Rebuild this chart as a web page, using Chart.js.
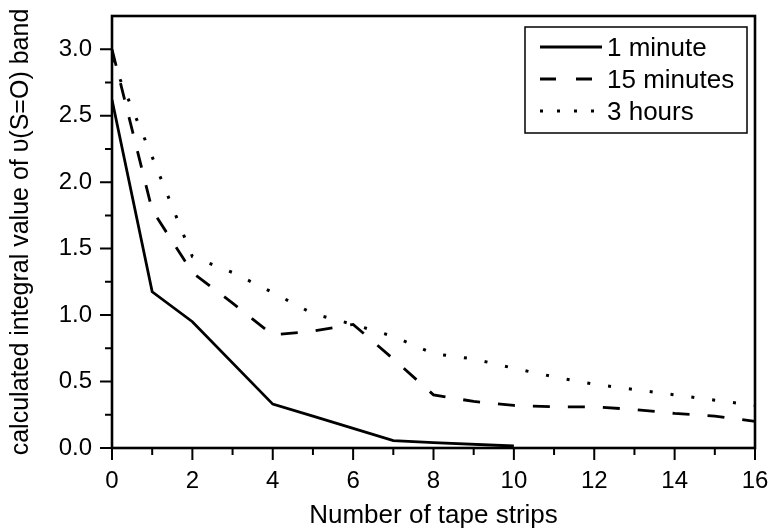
<!DOCTYPE html>
<html>
<head>
<meta charset="utf-8">
<script src="https://cdn.jsdelivr.net/npm/chart.js@4/dist/chart.umd.min.js"></script>
<style>
  html, body { margin: 0; padding: 0; background: #fff; }
  #wrap { width: 772px; height: 529px; }
</style>
</head>
<body>
<div id="wrap"><canvas id="c" width="772" height="529"></canvas></div>
<script>
// ---- data ----
const SERIES_NAMES = ['1 minute', '15 minutes', '3 hours'];

const X_1MIN = [0, 1, 2, 4, 5, 7, 8, 10];
const Y_1MIN = [2.62, 1.175, 0.95, 0.33, 0.24, 0.055, 0.04, 0.015];

const X_15MIN = [0, 1, 2, 3, 4, 5, 6, 7, 8, 9, 10, 11, 12, 13, 14, 15, 16];
const Y_15MIN = [3.0, 1.79, 1.32, 1.09, 0.85, 0.88, 0.93, 0.67, 0.40, 0.35, 0.32, 0.31, 0.31, 0.29, 0.26, 0.24, 0.20];

const X_3H = [0, 1, 2, 3, 4, 5, 6, 7, 8, 9, 10, 11, 12, 13, 14, 15, 16];
const Y_3H = [2.92, 2.19, 1.44, 1.32, 1.17, 1.01, 0.93, 0.84, 0.71, 0.67, 0.60, 0.535, 0.48, 0.44, 0.40, 0.36, 0.32];

const X_TICKS = [0, 2, 4, 6, 8, 10, 12, 14, 16];
const X_MINOR = [1, 3, 5, 7, 9, 11, 13, 15];
const Y_TICKS = [0, 0.5, 1.0, 1.5, 2.0, 2.5, 3.0];
const Y_MINOR = [0.25, 0.75, 1.25, 1.75, 2.25, 2.75];

const X_TITLE = 'Number of tape strips';
const Y_TITLE = 'calculated integral value of \u03C5(S=O) band';

const FONT = '"Liberation Sans", Arial, Helvetica, sans-serif';

function pts(xs, ys) { return xs.map((x, i) => ({ x: x, y: ys[i] })); }

const DASHES = [[], [17, 18], [3, 18]];
const LEGEND_DASHES = [[], [16, 20], [3, 14]];

const framePlugin = {
  id: 'frameTicks',
  afterDraw(chart) {
    const ctx = chart.ctx;
    const a = chart.chartArea;
    const xs = chart.scales.x, ys = chart.scales.y;
    ctx.save();
    ctx.strokeStyle = '#000';
    ctx.lineWidth = 2.6;
    ctx.lineCap = 'butt';
    ctx.setLineDash([]);
    ctx.strokeRect(a.left, a.top, a.right - a.left, a.bottom - a.top);
    // tick marks
    ctx.lineWidth = 2;
    ctx.beginPath();
    X_TICKS.forEach(v => { const p = xs.getPixelForValue(v); ctx.moveTo(p, a.bottom); ctx.lineTo(p, a.bottom + 12); });
    X_MINOR.forEach(v => { const p = xs.getPixelForValue(v); ctx.moveTo(p, a.bottom); ctx.lineTo(p, a.bottom + 7); });
    Y_TICKS.forEach(v => { const p = ys.getPixelForValue(v); ctx.moveTo(a.left, p); ctx.lineTo(a.left - 12, p); });
    Y_MINOR.forEach(v => { const p = ys.getPixelForValue(v); ctx.moveTo(a.left, p); ctx.lineTo(a.left - 7, p); });
    ctx.stroke();

    // legend
    const bx = 525, by = 27, bw = 222, bh = 106;
    ctx.lineWidth = 1.5;
    ctx.strokeRect(bx, by, bw, bh);
    const rows = [47, 79, 111];
    ctx.font = '26px ' + FONT;
    ctx.fillStyle = '#000';
    ctx.textBaseline = 'middle';
    ctx.textAlign = 'left';
    SERIES_NAMES.forEach((name, i) => {
      ctx.beginPath();
      ctx.setLineDash(LEGEND_DASHES[i]);
      ctx.lineWidth = i === 2 ? 3 : 2.8;
      ctx.moveTo(540, rows[i]);
      ctx.lineTo(602, rows[i]);
      ctx.stroke();
      ctx.setLineDash([]);
      ctx.fillText(name, 607, rows[i] + 2);
    });
    ctx.restore();
  }
};

new Chart(document.getElementById('c'), {
  type: 'line',
  data: {
    datasets: [
      { label: SERIES_NAMES[0], data: pts(X_1MIN, Y_1MIN), borderDash: DASHES[0] },
      { label: SERIES_NAMES[1], data: pts(X_15MIN, Y_15MIN), borderDash: DASHES[1] },
      { label: SERIES_NAMES[2], data: pts(X_3H, Y_3H), borderDash: DASHES[2], borderWidth: 3 }
    ].map(d => Object.assign({
      borderColor: '#000', backgroundColor: '#000', borderWidth: 2.8,
      pointRadius: 0, pointHoverRadius: 0, tension: 0, fill: false,
      borderCapStyle: 'butt', borderJoinStyle: 'miter'
    }, d))
  },
  options: {
    responsive: false,
    animation: false,
    events: [],
    layout: { padding: 0 },
    plugins: { legend: { display: false }, tooltip: { enabled: false } },
    scales: {
      x: {
        type: 'linear', min: 0, max: 16,
        afterBuildTicks: s => { s.ticks = X_TICKS.map(v => ({ value: v })); },
        afterFit: s => { s.height = 81; s.paddingRight = 17; s.paddingLeft = 0; },
        grid: { display: false, drawTicks: false },
        border: { display: false },
        ticks: { color: '#000', font: { family: FONT, size: 24 }, padding: 19, maxRotation: 0, autoSkip: false,
                 callback: v => String(v) },
        title: { display: true, text: X_TITLE, color: '#000', font: { family: FONT, size: 26, lineHeight: 1 }, padding: { top: 0, bottom: 0 } }
      },
      y: {
        type: 'linear', min: 0, max: 3.25,
        afterBuildTicks: s => { s.ticks = Y_TICKS.map(v => ({ value: v })); },
        afterFit: s => { s.width = 112; s.paddingTop = 16; s.paddingBottom = 0; },
        grid: { display: false, drawTicks: false },
        border: { display: false },
        ticks: { color: '#000', font: { family: FONT, size: 24 }, padding: 20, autoSkip: false,
                 callback: v => Number(v).toFixed(1) },
        title: { display: true, text: Y_TITLE, color: '#000', font: { family: FONT, size: 25, lineHeight: 1 }, padding: { top: 9, bottom: 0 } }
      }
    }
  },
  plugins: [framePlugin]
});
</script>
</body>
</html>
